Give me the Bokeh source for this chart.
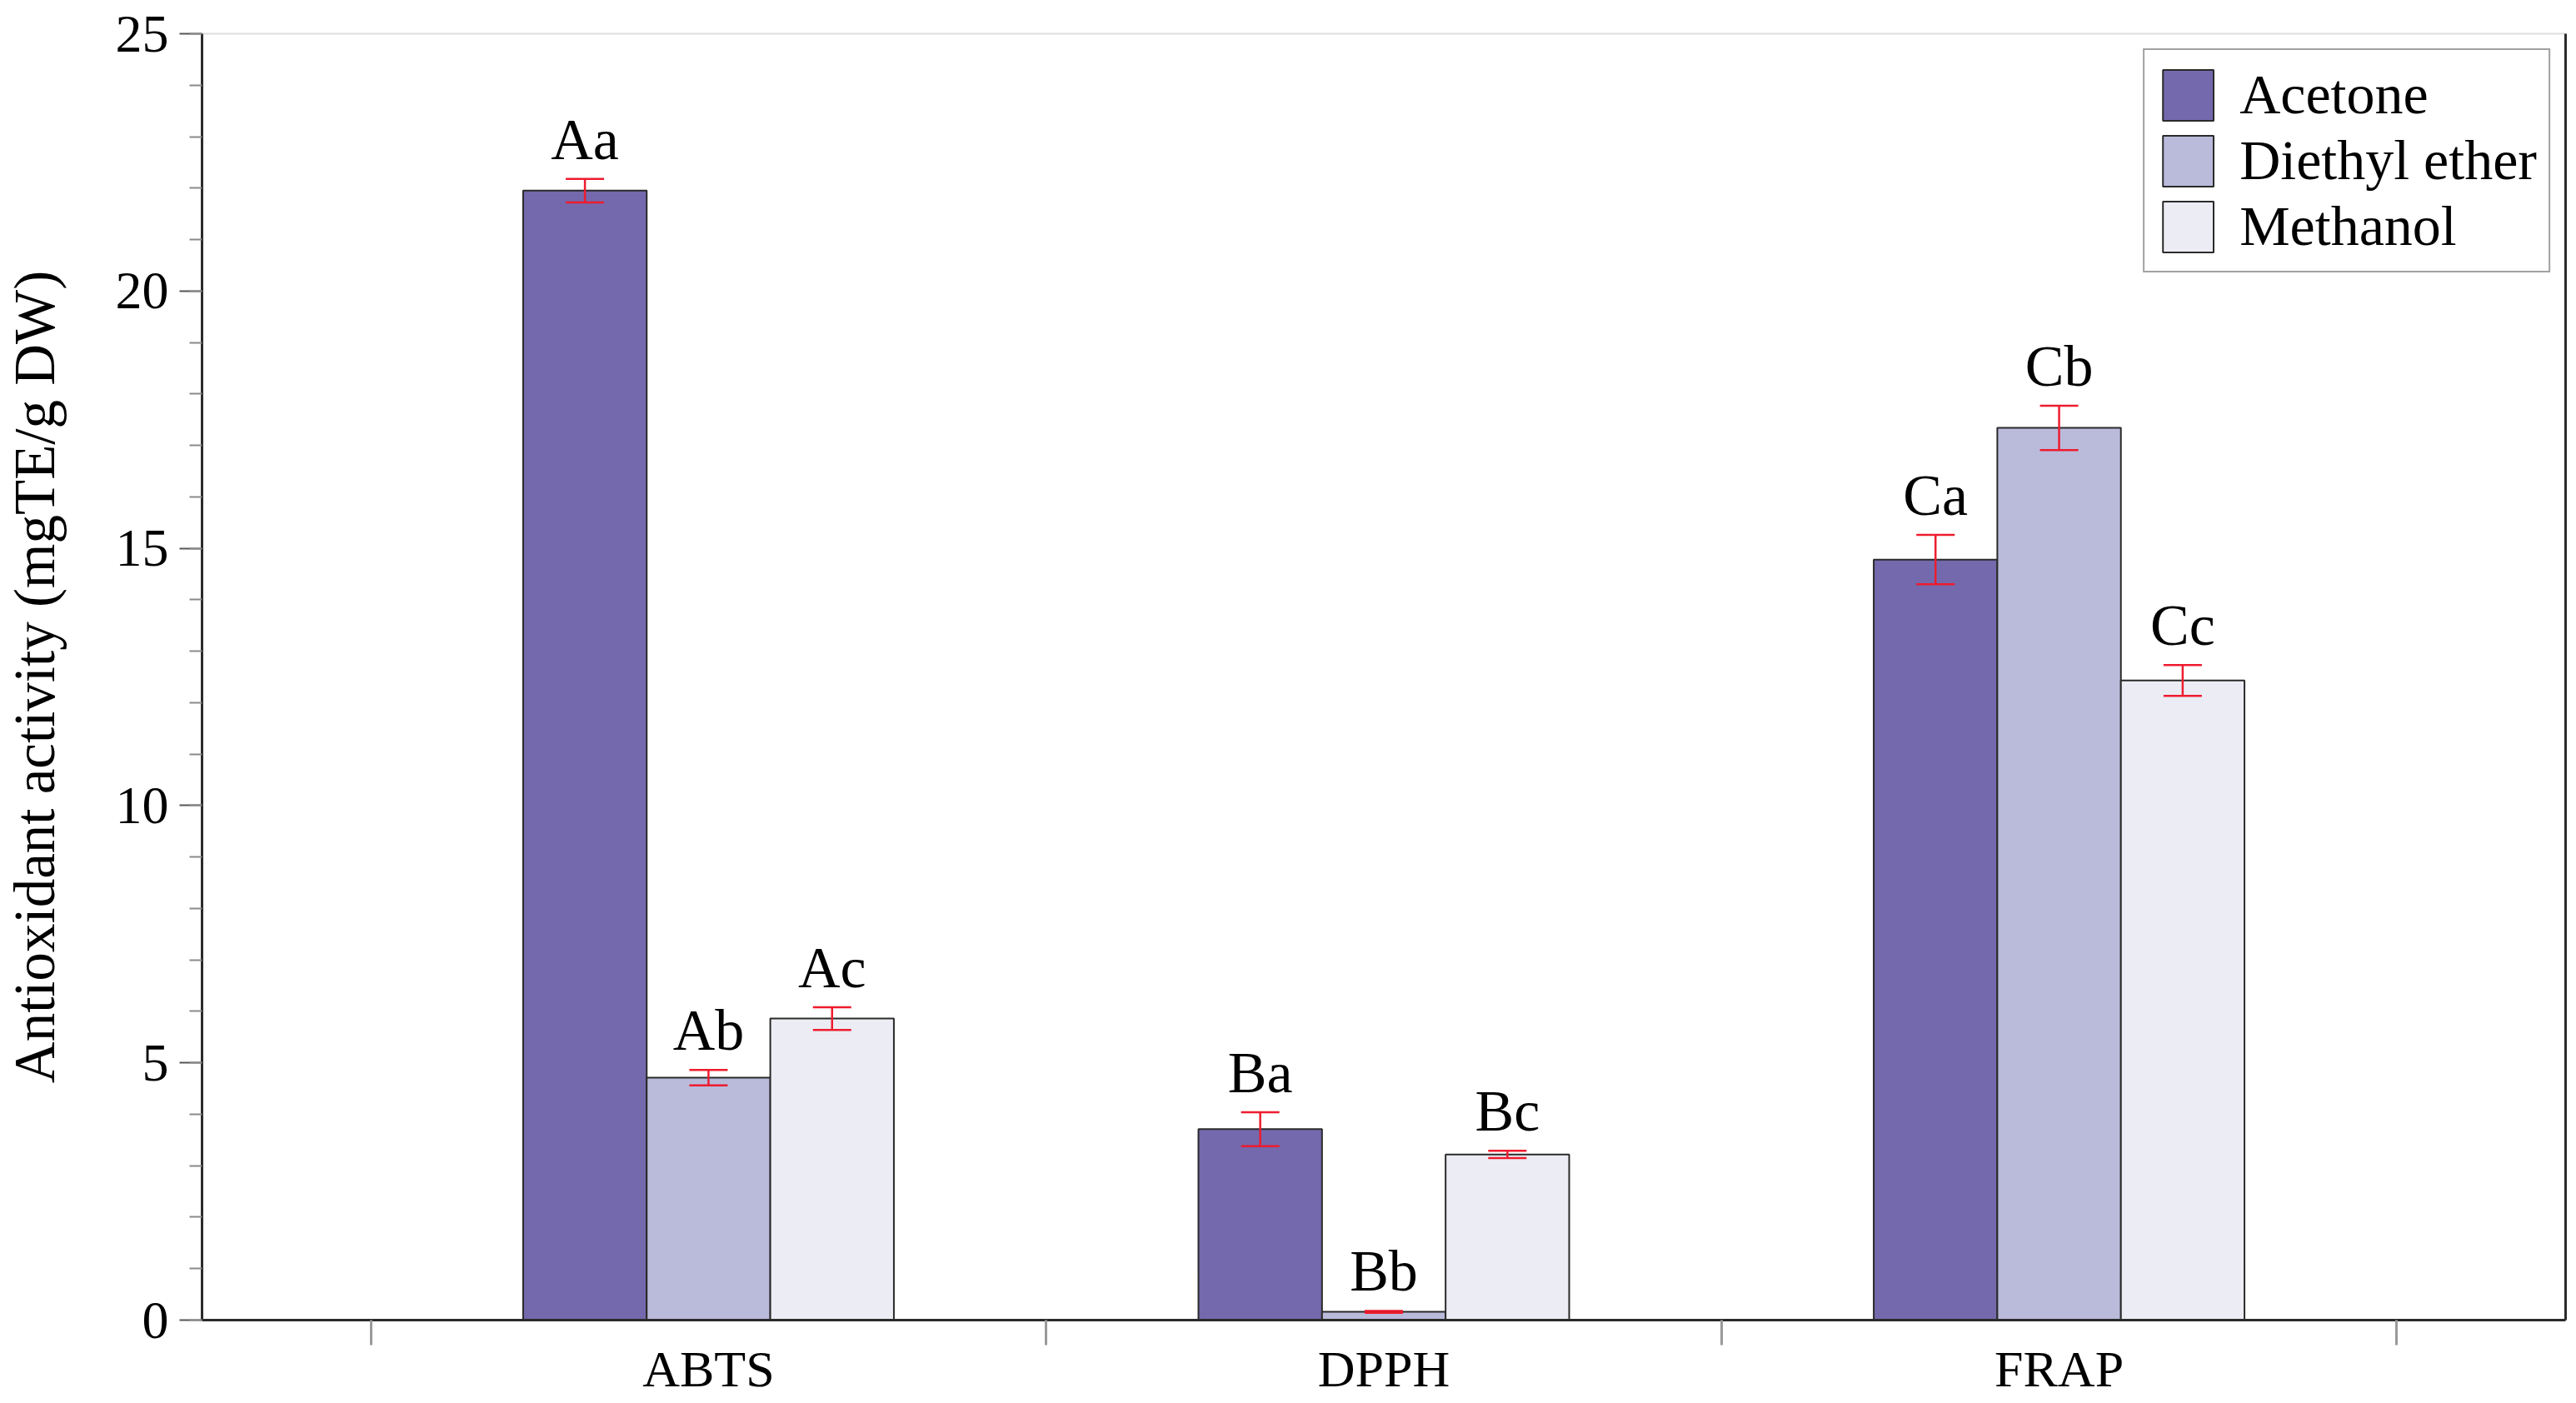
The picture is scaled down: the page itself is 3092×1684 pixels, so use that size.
from bokeh.plotting import figure
from bokeh.models import (ColumnDataSource, FixedTicker, LinearAxis, Whisker,
                          TeeHead, Legend, LabelSet)
from bokeh.embed import file_html
from bokeh.resources import INLINE

# ---- data ----
categories = ["ABTS", "DPPH", "FRAP"]
solvents = ["Acetone", "Diethyl ether", "Methanol"]
acetone = [21.95, 3.71, 14.78]
acetone_err = [0.23, 0.33, 0.48]
diethyl = [4.71, 0.16, 17.34]
diethyl_err = [0.15, 0.02, 0.43]
methanol = [5.86, 3.22, 12.43]
methanol_err = [0.22, 0.07, 0.30]
acetone_letters = ["Aa", "Ba", "Ca"]
diethyl_letters = ["Ab", "Bb", "Cb"]
methanol_letters = ["Ac", "Bc", "Cc"]
y_ticks = [0, 5, 10, 15, 20, 25]
y_minor = list(range(0, 26))

FONT = "Liberation Serif"
colors = ["#7469AC", "#BABBDB", "#ECECF5"]
RED = "#EE1C2E"
BAR_W = 0.183

p = figure(x_range=(-0.75, 2.75), y_range=(0, 25),
           frame_width=2837, frame_height=1544,
           output_backend="svg", toolbar_location=None,
           min_border_left=232, min_border_right=7,
           min_border_top=40, min_border_bottom=60,
           background_fill_color="white")
p.xgrid.visible = False
p.ygrid.visible = False
p.outline_line_color = None

series = [
    (solvents[0], acetone, acetone_err, acetone_letters, -1),
    (solvents[1], diethyl, diethyl_err, diethyl_letters, 0),
    (solvents[2], methanol, methanol_err, methanol_letters, 1),
]

legend_items = []
for (name, vals, errs, letters, k), col in zip(series, colors):
    xs = [i + k * BAR_W for i in range(len(categories))]
    src = ColumnDataSource(dict(
        x=xs, top=vals,
        upper=[v + e for v, e in zip(vals, errs)],
        lower=[v - e for v, e in zip(vals, errs)],
        lab=letters,
    ))
    r = p.vbar(x="x", top="top", width=BAR_W, bottom=0, source=src,
               fill_color=col, line_color="#2a2a2a", line_width=2)
    legend_items.append((name, [r]))
    w = Whisker(base="x", upper="upper", lower="lower", source=src,
                line_color=RED, line_width=2.5, level="annotation",
                upper_head=TeeHead(size=46, line_color=RED, line_width=2.5),
                lower_head=TeeHead(size=46, line_color=RED, line_width=2.5))
    p.add_layout(w)
    labels = LabelSet(x="x", y="upper", text="lab", source=src,
                      text_align="center", text_baseline="alphabetic",
                      y_offset=24, text_font=FONT, text_font_size="70px",
                      text_color="black")
    p.add_layout(labels)

# ---- axes ----
xa = p.xaxis[0]
xa.ticker = FixedTicker(ticks=[0, 1, 2], minor_ticks=[-0.5, 0.5, 1.5, 2.5])
xa.major_label_overrides = {i: c for i, c in enumerate(categories)}
xa.major_tick_out = 0
xa.major_tick_in = 0
xa.minor_tick_out = 30
xa.minor_tick_in = 0
xa.minor_tick_line_color = "#9a9a9a"
xa.minor_tick_line_width = 3
xa.axis_line_color = "#2a2a2a"
xa.axis_line_width = 3
xa.major_label_text_font = FONT
xa.major_label_text_font_size = "62px"
xa.major_label_text_color = "black"
xa.major_label_standoff = -6

ya = p.yaxis[0]
ya.ticker = FixedTicker(ticks=y_ticks, minor_ticks=y_minor)
ya.major_tick_out = 27
ya.major_tick_in = 0
ya.minor_tick_out = 15
ya.minor_tick_in = 0
ya.major_tick_line_color = "#555555"
ya.major_tick_line_width = 2
ya.minor_tick_line_color = "#8a8a8a"
ya.minor_tick_line_width = 2
ya.axis_line_color = "#2a2a2a"
ya.axis_line_width = 3
ya.major_label_text_font = FONT
ya.major_label_text_font_size = "64px"
ya.major_label_text_color = "black"
ya.major_label_standoff = 13
ya.axis_label = "Antioxidant activity (mgTE/g DW)"
ya.axis_label_text_font = FONT
ya.axis_label_text_font_size = "69px"
ya.axis_label_text_font_style = "normal"
ya.axis_label_text_color = "black"
ya.axis_label_standoff = 56

ra = LinearAxis(ticker=FixedTicker(ticks=[]), major_label_text_font_size="0px",
                axis_line_color="#2a2a2a", axis_line_width=3,
                major_tick_out=0, minor_tick_out=0, major_tick_in=0, minor_tick_in=0)
p.add_layout(ra, "right")
ta = LinearAxis(ticker=FixedTicker(ticks=[]), major_label_text_font_size="0px",
                axis_line_color="#dddddd", axis_line_width=2,
                major_tick_out=0, minor_tick_out=0, major_tick_in=0, minor_tick_in=0)
p.add_layout(ta, "above")

# ---- legend ----
legend = Legend(items=legend_items, location="top_right")
legend.label_text_font = FONT
legend.label_text_font_size = "68px"
legend.label_text_color = "black"
legend.glyph_width = 76
legend.glyph_height = 76
legend.label_height = 76
legend.spacing = 0
legend.padding = 14
legend.margin = 18
legend.label_standoff = 24
legend.border_line_color = "#444444"
legend.border_line_width = 2
legend.background_fill_alpha = 1
p.add_layout(legend)

open("out.html", "w").write(file_html(p, INLINE))
